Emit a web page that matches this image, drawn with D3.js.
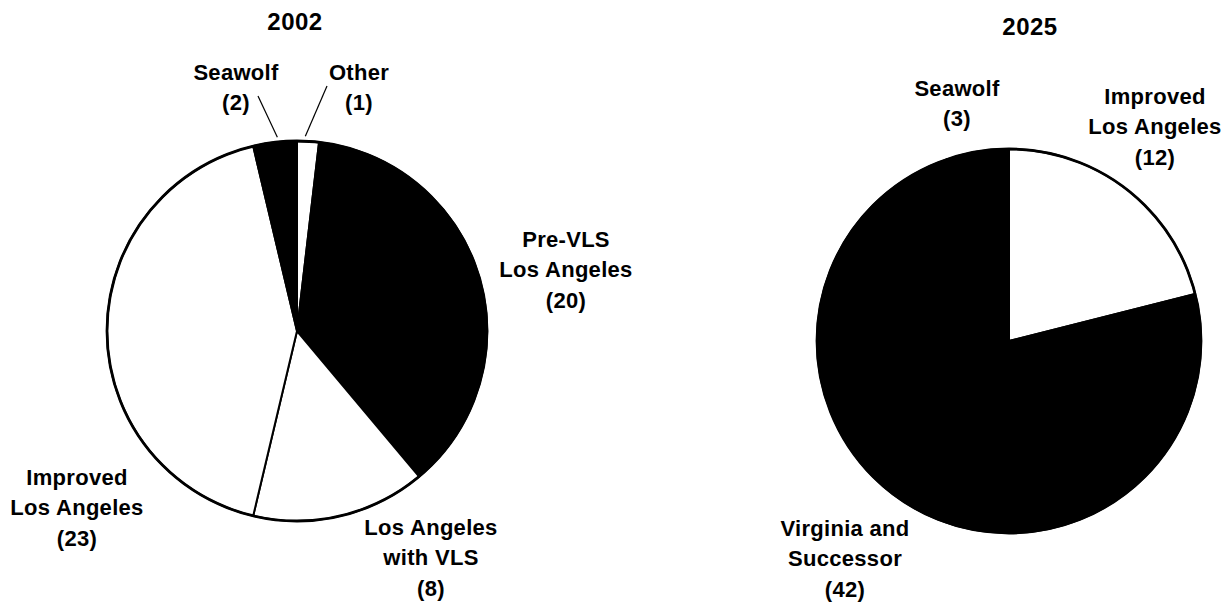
<!DOCTYPE html>
<html>
<head>
<meta charset="utf-8">
<script src="https://cdn.jsdelivr.net/npm/d3@7"></script>
<style>
  html, body { margin: 0; padding: 0; background: #fff; }
  svg text { font-family: "Liberation Sans", Arial, Helvetica, sans-serif; font-weight: bold; fill: #000; }
</style>
</head>
<body>
<svg id="chart" width="1222" height="603"></svg>
<script>
// ---------- DATA ----------
const titles = ["2002", "2025"];

const categories2002 = ["Other", "Pre-VLS Los Angeles", "Los Angeles with VLS", "Improved Los Angeles", "Seawolf"];
const values2002 = [1, 20, 8, 23, 2];
const labelLines2002 = [["Other"], ["Pre-VLS", "Los Angeles"], ["Los Angeles", "with VLS"], ["Improved", "Los Angeles"], ["Seawolf"]];

const categories2025 = ["Improved Los Angeles", "Virginia and Successor", "Seawolf"];
const values2025 = [12, 42, 3];
const labelLines2025 = [["Improved", "Los Angeles"], ["Virginia and", "Successor"], ["Seawolf"]];

// ---------- STYLE / LAYOUT ----------
const fillOf = {
  "Other": "#ffffff",
  "Pre-VLS Los Angeles": "#000000",
  "Los Angeles with VLS": "#ffffff",
  "Improved Los Angeles": "#ffffff",
  "Seawolf": "#000000",
  "Virginia and Successor": "#000000"
};

const pies = [
  {
    title: titles[0], titlePos: [295, 30],
    cats: categories2002, vals: values2002, lines: labelLines2002,
    cx: 297, cy: 331, r: 190,
    labelPos: {
      "Other": [359, 80],
      "Seawolf": [236, 80],
      "Pre-VLS Los Angeles": [566, 247],
      "Los Angeles with VLS": [431, 535],
      "Improved Los Angeles": [77, 485]
    },
    leaders: {
      "Seawolf": [258, 96],
      "Other": [327, 86]
    }
  },
  {
    title: titles[1], titlePos: [1030, 35],
    cats: categories2025, vals: values2025, lines: labelLines2025,
    cx: 1009, cy: 341, r: 192,
    labelPos: {
      "Seawolf": [957, 96],
      "Improved Los Angeles": [1155, 104],
      "Virginia and Successor": [845, 536]
    },
    leaders: {}
  }
];

const svg = d3.select("#chart");
const lineH = 30.3;

pies.forEach(p => {
  const data = p.cats.map((c, i) => ({ cat: c, value: p.vals[i], lines: p.lines[i] }));
  const pieGen = d3.pie().sort(null).value(d => d.value).startAngle(0).endAngle(2 * Math.PI);
  const arcs = pieGen(data);
  const arc = d3.arc().innerRadius(0).outerRadius(p.r);

  const g = svg.append("g").attr("transform", `translate(${p.cx},${p.cy})`);
  g.selectAll("path.slice")
    .data(arcs)
    .join("path")
    .attr("class", "slice")
    .attr("d", arc)
    .attr("fill", d => fillOf[d.data.cat])
    .attr("stroke", "#000")
    .attr("stroke-width", 2)
    .attr("stroke-linejoin", "round");

  g.append("circle")
    .attr("r", p.r)
    .attr("fill", "none")
    .attr("stroke", "#000")
    .attr("stroke-width", 2.8);

  // title
  svg.append("text")
    .attr("x", p.titlePos[0])
    .attr("y", p.titlePos[1])
    .attr("text-anchor", "middle")
    .style("font-size", "24px")
    .style("letter-spacing", "0.5px")
    .text(p.title);

  // labels
  arcs.forEach(a => {
    const pos = p.labelPos[a.data.cat];
    const allLines = a.data.lines.concat([`(${a.data.value})`]);
    const t = svg.append("text")
      .attr("text-anchor", "middle")
      .style("font-size", "22px")
      .style("letter-spacing", "0.3px");
    allLines.forEach((ln, i) => {
      t.append("tspan")
        .attr("x", pos[0])
        .attr("y", pos[1] + i * lineH)
        .text(ln);
    });

    const lead = p.leaders[a.data.cat];
    if (lead) {
      const mid = (a.startAngle + a.endAngle) / 2;
      const rr = p.r + 5;
      const ex = p.cx + rr * Math.sin(mid) - 3 * Math.sin(mid) / Math.abs(Math.sin(mid));
      const ey = p.cy - rr * Math.cos(mid);
      svg.append("line")
        .attr("x1", lead[0]).attr("y1", lead[1])
        .attr("x2", ex).attr("y2", ey)
        .attr("stroke", "#000")
        .attr("stroke-width", 1.2);
    }
  });
});
</script>
</body>
</html>
